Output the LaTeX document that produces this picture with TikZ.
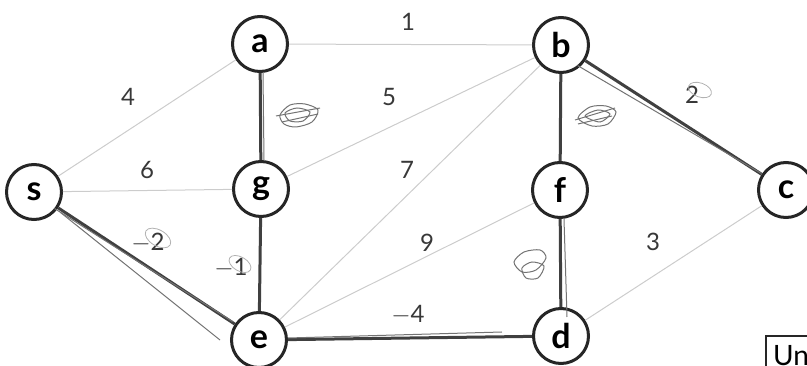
\documentclass[tikz,border=0pt]{standalone}
\usepackage{fontspec}
\setmainfont{Lato}
\begin{document}
\begin{tikzpicture}[x=1pt,y=-1pt,
  vert/.style={circle,draw=black!85,line width=3pt,fill=white,minimum size=55pt,inner sep=0pt,
    font=\fontsize{34}{34}\selectfont\bfseries},
  lightedge/.style={draw=black!20,line width=1pt},
  darkedge/.style={draw=black!75,line width=3pt},
  sketch/.style={draw=black!55,line width=1pt},
  wlabel/.style={text=black!78,font=\fontsize{24}{24}\selectfont},
  scrib/.style={draw=black!55,line width=1pt}
]
\useasboundingbox (0,0) rectangle (807,366);
% vertices
\node[vert] (s) at (34,192) {s};
\node[vert] (a) at (260,44) {a};
\node[vert] (g) at (261,189) {g};
\node[vert] (e) at (259,340) {e};
\node[vert] (b) at (561,45) {b};
\node[vert] (f) at (560,190) {f};
\node[vert] (c) at (786,190) {c};
\node[vert] (d) at (561,336) {d};
% light edges
\path[lightedge] (a) -- (b);
\path[lightedge] (s) -- (a);
\path[lightedge] (g) -- (b);
\path[lightedge] (s) -- (g);
\path[lightedge] (e) -- (b);
\path[lightedge] (e) -- (f);
\path[lightedge] (d) -- (c);
% dark edges
\path[darkedge] (a) -- (g);
\path[darkedge] (g) -- (e);
\path[darkedge] (s) -- (e);
\path[darkedge] (e) -- (d);
\path[darkedge] (b) -- (f);
\path[darkedge] (f) -- (d);
\path[darkedge] (b) -- (c);
% extra hand strokes
\path[sketch] ([yshift=4pt]s.south east) -- ([xshift=-6pt,yshift=-2pt]e.north west);
\path[sketch] ([xshift=6pt]s.south east) -- ([xshift=-10pt]e.west);
\path[sketch] ([xshift=-4pt]b.south east) -- ([xshift=-4pt,yshift=-4pt]c.north west);
\path[sketch] ([yshift=2pt]e.east) -- ([xshift=-30pt,yshift=4pt]d.west);
\path[sketch] ([xshift=3pt]a.south) -- ([xshift=3pt]g.north);
\path[sketch] ([xshift=4pt]f.south) -- ([xshift=6pt,yshift=-10pt]d.north);
% weights
\node[wlabel] (w1) at (408,22) {1};
\node[wlabel] (w4) at (128,97) {4};
\node[wlabel] (w5) at (389,97) {5};
\node[wlabel] (w6) at (147,170) {6};
\node[wlabel] (w7) at (407,170) {7};
\node[wlabel] (w9) at (427,243) {9};
\node[wlabel] (w3) at (653,242) {3};
\node[wlabel] (wm2) at (148,243) {$-$2};
\node[wlabel] (wm1) at (231,268) {$-$1};
\node[wlabel] (wm4) at (408,315) {$-$4};
\node[wlabel] (w2) at (692,95) {2};
% hand loops around labels
\draw[black!30,line width=0.8pt,rotate around={-30:(158,238)}] (158,238) ellipse (14 and 8);
\draw[black!30,line width=0.8pt,rotate around={-30:(240,264)}] (240,264) ellipse (12 and 7);
\draw[black!30,line width=0.8pt,rotate around={-20:(700,90)}] (700,90) ellipse (12 and 7);
% scribbles over erased labels
\draw[scrib] plot[smooth cycle] coordinates {(280,115) (290,105) (305,104) (318,110) (312,122) (296,127) (284,124)};
\draw[scrib] plot[smooth cycle] coordinates {(285,113) (297,108) (310,112) (303,121) (290,121)};
\draw[scrib] (276,116) -- (320,108) (282,122) -- (318,114);
\draw[scrib] plot[smooth cycle] coordinates {(578,118) (590,107) (606,106) (616,112) (608,124) (592,126)};
\draw[scrib] plot[smooth cycle] coordinates {(585,116) (598,110) (610,114) (600,122)};
\draw[scrib] (575,120) -- (615,108) (578,124) -- (612,116);
\draw[scrib] plot[smooth cycle] coordinates {(514,262) (524,252) (540,250) (546,258) (536,270) (522,272)};
\draw[scrib] plot[smooth cycle] coordinates {(522,268) (532,262) (544,266) (538,278) (526,278)};
% partial box at bottom right
\draw[black!85,line width=1.2pt] (766,336) rectangle (840,400);
\node[anchor=north west,inner sep=0pt,font=\fontsize{28}{28}\selectfont] (un) at (773,345) {Un};
\end{tikzpicture}
\end{document}
